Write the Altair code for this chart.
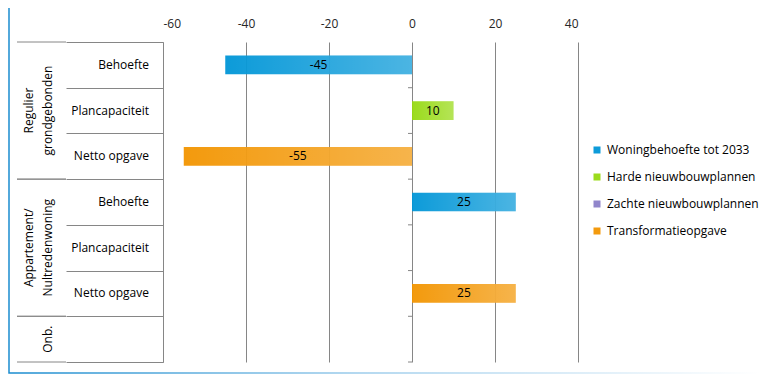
import altair as alt
import pandas as pd

# ---- data ----
rows = ["r1", "r2", "r3", "r4", "r5", "r6", "r7"]
sub_labels = ["Behoefte", "Plancapaciteit", "Netto opgave",
              "Behoefte", "Plancapaciteit", "Netto opgave", ""]
group_labels = ["Regulier\ngrondgebonden", "Appartement/\nNultredenwoning", "\nOnb."]
group_first = ["r1", "r4", "r7"]
group_mid = ["r2", "r5", "r7"]
group_last = ["r3", "r6", "r7"]

series = ["Woningbehoefte tot 2033", "Harde nieuwbouwplannen",
          "Zachte nieuwbouwplannen", "Transformatieopgave"]
series_colors = ["#0096D7", "#96D910", "#8B80C8", "#F29500"]

bar_rows = ["r1", "r2", "r3", "r4", "r6"]
bar_series = [series[0], series[1], series[3], series[0], series[3]]
bar_values = [-45, 10, -55, 25, 25]

x_ticks = [-60, -40, -20, 0, 20, 40]

# ---- tables ----
df_rows = pd.DataFrame({"row": rows, "label": sub_labels})
df_gstart = pd.DataFrame({"row": group_first})
df_gend = pd.DataFrame({"row": group_last})
df_gmid = pd.DataFrame({"row": group_mid, "label": group_labels})
df_bars = pd.DataFrame({"row": bar_rows, "series": bar_series, "value": bar_values})
df_one = pd.DataFrame({"k": [0]})

GRAY = "#868686"
FONT = "Open Sans"

yscale = alt.Scale(domain=rows, paddingInner=0, paddingOuter=0)
yaxis = alt.Axis(orient="left", title=None, labels=False, ticks=True,
                 tickBand="extent", tickSize=97, tickColor=GRAY, tickWidth=1,
                 domain=True, domainColor=GRAY, domainWidth=1, grid=False)
xscale = alt.Scale(domain=[-60, 40], nice=False, zero=False)
xaxis = alt.Axis(orient="top", title=None, values=x_ticks, grid=True,
                 gridColor=GRAY, gridWidth=1, domain=False, ticks=False,
                 tickSize=0, labelPadding=12, labelFontSize=12,
                 labelColor="#262626", labelFont=FONT,
                 labelExpr="toString(datum.value)")


def Y(bp=0.5):
    return alt.Y("row:N", scale=yscale, axis=yaxis, bandPosition=bp)


frame = alt.Chart(df_one).mark_rect(
    fill="transparent",
    stroke=alt.Gradient(
        gradient="linear",
        stops=[alt.GradientStop(color="#1A8CCF", offset=0),
               alt.GradientStop(color="#9CCCEB", offset=0.45),
               alt.GradientStop(color="#FFFFFF", offset=0.97)],
        x1=0, x2=1, y1=0, y2=0),
    strokeWidth=1.5,
).encode(x=alt.value(-154), x2=alt.value(620), y=alt.value(-35), y2=alt.value(331))

sub_text = alt.Chart(df_rows).mark_text(
    align="right", baseline="middle", fontSize=12, color="#000000", font=FONT
).encode(y=Y(), x=alt.value(-14), text="label:N")

long_start = alt.Chart(df_gstart).mark_rule(color=GRAY, strokeWidth=1).encode(
    y=Y(0), x=alt.value(-146), x2=alt.value(-97))
long_end = alt.Chart(df_gend).mark_rule(color=GRAY, strokeWidth=1).encode(
    y=Y(1), x=alt.value(-146), x2=alt.value(-97))

zero_ticks = alt.Chart(df_rows).mark_rule(color=GRAY, strokeWidth=1, x2Offset=-4).encode(
    y=Y(1), x=alt.datum(0, scale=xscale, axis=xaxis), x2=alt.datum(0))

bars = alt.Chart(df_bars).mark_bar(
    height=alt.RelativeBandSize(0.41), opacity=0.95
).encode(
    y=Y(),
    x=alt.X("value:Q", scale=xscale, axis=xaxis),
    color=alt.Color("series:N",
                    scale=alt.Scale(domain=series, range=series_colors),
                    legend=alt.Legend(title=None, orient="none", legendX=428,
                                      legendY=102, symbolType="square",
                                      symbolSize=49, symbolStrokeWidth=0,
                                      rowPadding=15, labelOffset=4,
                                      labelFontSize=12, labelColor="#000000",
                                      labelFont=FONT, labelLimit=300)),
)

overlay = alt.Chart(df_bars).mark_bar(
    height=alt.RelativeBandSize(0.41),
    color=alt.Gradient(
        gradient="linear",
        stops=[alt.GradientStop(color="rgba(255,255,255,0)", offset=0),
               alt.GradientStop(color="rgba(255,255,255,0.26)", offset=1)],
        x1=0, x2=1, y1=0, y2=0),
).encode(y=Y(), x=alt.X("value:Q", scale=xscale, axis=xaxis))

bar_text = alt.Chart(df_bars).transform_calculate(
    mid="datum.value / 2", lbl="toString(datum.value)"
).mark_text(align="center", baseline="middle", fontSize=12, color="#000000", font=FONT).encode(
    y=Y(), x=alt.X("mid:Q", scale=xscale, axis=xaxis), text=alt.Text("lbl:N"))

group_text = alt.Chart(df_gmid).mark_text(
    angle=270, align="center", baseline="middle", lineBreak="\n",
    lineHeight=19, fontSize=12, color="#000000", font=FONT
).encode(y=Y(), x=alt.value(-134), text="label:N")

chart = alt.layer(
    frame, sub_text, long_start, long_end, zero_ticks, bars, overlay, bar_text, group_text
).properties(
    width=415, height=320,
    padding={"left": 155, "top": 34, "right": 189, "bottom": 16},
    autosize=alt.AutoSizeParams(type="none"),
).configure(font=FONT).configure_view(strokeWidth=0)

chart.save("out.html", embed_options={"renderer": "svg", "actions": False})
